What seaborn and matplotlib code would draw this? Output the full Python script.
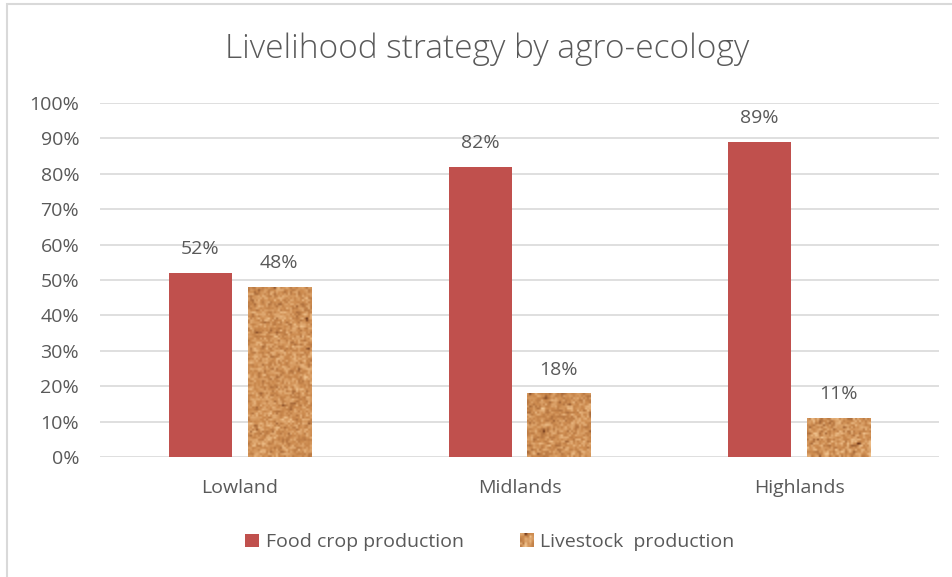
import numpy as np
import pandas as pd
import matplotlib
matplotlib.use("Agg")
import matplotlib.pyplot as plt
import seaborn as sns
from matplotlib.legend_handler import HandlerBase
from matplotlib.image import BboxImage
from matplotlib.transforms import Bbox, TransformedBbox
from matplotlib.patches import Rectangle

zones = ["Lowland", "Midlands", "Highlands"]
series = ["Food crop production", "Livestock  production"]
food_crop = [52, 82, 89]
livestock = [48, 18, 11]
y_ticks = [0, 10, 20, 30, 40, 50, 60, 70, 80, 90, 100]

RED = "#C0504D"
TAN = "#D49A63"
TEXT = "#595959"
GRID = "#D9D9D9"
FS = 14

sns.set_theme(style="white")
plt.rcParams["font.family"] = ["Open Sans", "DejaVu Sans"]

df = pd.DataFrame({
    "zone": zones * 2,
    "series": [series[0]] * 3 + [series[1]] * 3,
    "value": food_crop + livestock,
})

# cork-like fill used for the livestock bars
rng = np.random.default_rng(11)


def cork_texture(rows, cols):
    n = rng.random((rows + 2, cols + 2))
    s = np.zeros((rows, cols))
    for dy in range(2):
        for dx in range(2):
            s += n[dy:dy + rows, dx:dx + cols]
    s /= 4.0
    s = 0.55 * s + 0.45 * rng.random((rows, cols))
    s = (s - s.min()) / (s.max() - s.min() + 1e-9)
    dark = np.array([105, 50, 22]) / 255
    mid = np.array([204, 138, 78]) / 255
    light = np.array([242, 198, 146]) / 255
    lo = s < 0.42
    t1 = np.clip(s / 0.42, 0, 1)[..., None]
    t2 = np.clip((s - 0.42) / 0.58, 0, 1)[..., None]
    img = np.where(lo[..., None], dark + (mid - dark) * (t1 ** 0.3), mid + (light - mid) * t2)
    return img


fig = plt.figure(figsize=(9.53, 5.77), dpi=100)
ax = fig.add_axes([100 / 953, 1 - 457 / 577, 839 / 953, 354 / 577])

sns.barplot(data=df, x="zone", y="value", hue="series",
            palette=[RED, TAN], width=0.564, gap=0.2, ax=ax,
            legend=False, saturation=1, edgecolor="none")

ax.set_ylim(0, 100)
ax.set_xlim(-0.5, 2.5)
ax.set_yticks(y_ticks)
ax.set_yticklabels([f"{t}%" for t in y_ticks])
ax.yaxis.grid(True, color=GRID, linewidth=1.2)
ax.set_axisbelow(True)
for sp in ax.spines.values():
    sp.set_visible(False)
ax.tick_params(axis="y", length=0, pad=15, labelsize=FS, labelcolor=TEXT)
ax.tick_params(axis="x", length=0, pad=16, labelsize=FS, labelcolor=TEXT)
ax.set_xlabel("")
ax.set_ylabel("")

# overlay texture on the livestock bars
for bar in ax.containers[1]:
    x0, w, h = bar.get_x(), bar.get_width(), bar.get_height()
    rows = max(4, int(h * 3.54 / 2.0))
    ax.imshow(cork_texture(rows, 32), extent=(x0, x0 + w, 0, h),
              aspect="auto", interpolation="bilinear", zorder=bar.get_zorder() + 0.1)
ax.set_xlim(-0.5, 2.5)
ax.set_ylim(0, 100)

for cont in ax.containers:
    ax.bar_label(cont, labels=[f"{v:.0f}%" for v in cont.datavalues],
                 padding=10.5, fontsize=FS, color=TEXT)

fig.text(0.511, 0.914, "Livelihood strategy by agro-ecology", ha="center",
         va="center", fontsize=24, color=TEXT, fontweight="light")

# chart border
fig.add_artist(Rectangle((7 / 953, -0.05), 1.2, 1 - 4 / 577 + 0.05,
                         transform=fig.transFigure, fill=False,
                         edgecolor=GRID, linewidth=1.5))


class TextureHandler(HandlerBase):
    def create_artists(self, legend, orig_handle, xdescent, ydescent,
                       width, height, fontsize, trans):
        bb = Bbox.from_bounds(-xdescent, -ydescent, width, height)
        img = BboxImage(TransformedBbox(bb, trans), interpolation="bilinear")
        img.set_data(cork_texture(6, 6))
        return [img]


class TextureKey:
    pass


h_food = Rectangle((0, 0), 1, 1, facecolor=RED, edgecolor="none")
h_live = TextureKey()
fig.legend([h_food, h_live], series, loc="center", bbox_to_anchor=(0.514, 0.06),
           ncol=2, frameon=False, fontsize=FS, labelcolor=TEXT,
           handlelength=0.7, handleheight=0.7, handletextpad=0.35,
           columnspacing=2.9, handler_map={TextureKey: TextureHandler()})

fig.savefig("out.png", dpi=100)
